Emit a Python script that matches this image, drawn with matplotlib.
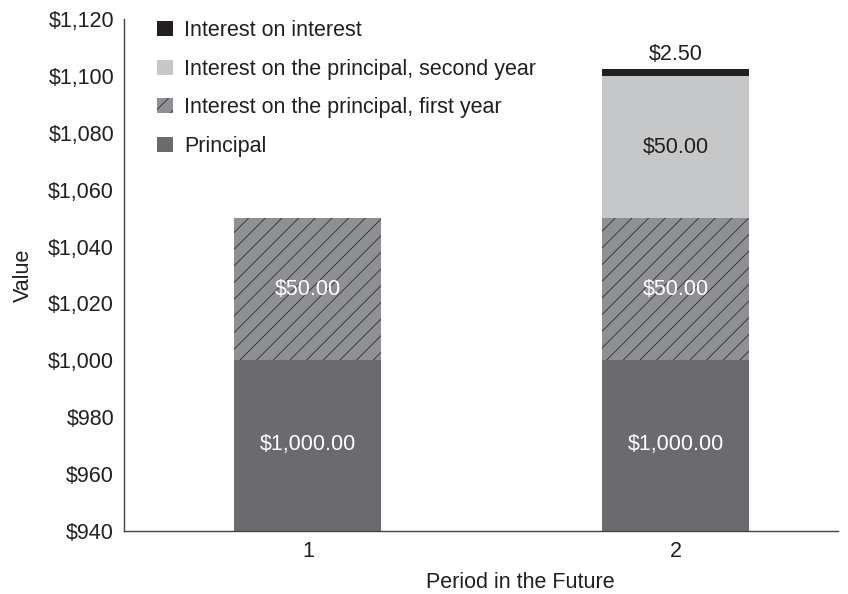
import matplotlib.pyplot as plt
import matplotlib as mpl

mpl.rcParams['font.family'] = ['Liberation Sans', 'DejaVu Sans']
mpl.rcParams['hatch.linewidth'] = 0.6

periods = ["1", "2"]
principal = [1000.0, 1000.0]
interest_year1 = [50.0, 50.0]
interest_year2 = [0.0, 50.0]
interest_on_interest = [0.0, 2.5]

fig = plt.figure(figsize=(8.48, 5.94), dpi=100)
ax = fig.add_axes([0.146, 0.106, 0.842, 0.862])

x = [1, 2]
w = 0.40
ax.bar(x, principal, w, color="#6b6b6f", label="Principal", zorder=2)
b1 = [p for p in principal]
ax.bar(x, interest_year1, w, bottom=b1, color="#8f9093", hatch="//",
       edgecolor="#2e2e2e", linewidth=0, label="Interest on the principal, first year", zorder=2)
b2 = [p + i for p, i in zip(principal, interest_year1)]
ax.bar(x[1:], interest_year2[1:], w, bottom=b2[1:], color="#c6c7c9",
       label="Interest on the principal, second year", zorder=2)
b3 = [a + b for a, b in zip(b2, interest_year2)]
ax.bar(x[1:], interest_on_interest[1:], w, bottom=b3[1:], color="#231f20",
       label="Interest on interest", zorder=2)

fs = 15.5
# value labels
for xi, p in zip(x, principal):
    ax.text(xi, 970.5, f"${p:,.2f}", ha="center", va="center", color="white", fontsize=fs)
for xi, v, b in zip(x, interest_year1, b1):
    ax.text(xi, b + v / 2, f"${v:,.2f}", ha="center", va="center", color="white", fontsize=fs)
ax.text(2, b2[1] + interest_year2[1] / 2, f"${interest_year2[1]:,.2f}",
        ha="center", va="center", color="#231f20", fontsize=fs)
ax.text(2, b3[1] + interest_on_interest[1] + 1.2, f"${interest_on_interest[1]:,.2f}",
        ha="center", va="bottom", color="#231f20", fontsize=fs)

ax.set_xlim(0.5, 2.44)
ax.set_ylim(940, 1120)
ax.set_yticks(range(940, 1121, 20))
ax.set_yticklabels([f"${v:,}" for v in range(940, 1121, 20)])
ax.set_xticks(x)
ax.set_xticklabels(periods)
ax.tick_params(length=0, labelsize=fs, colors="#231f20", pad=7)
for s in ["top", "right"]:
    ax.spines[s].set_visible(False)
for s in ["left", "bottom"]:
    ax.spines[s].set_color("#444444")
    ax.spines[s].set_linewidth(1.0)

ax.set_ylabel("Value", fontsize=fs, color="#231f20", labelpad=10)
ax.set_xlabel("Period in the Future", fontsize=fs, color="#231f20")
ax.xaxis.set_label_coords(0.556, -0.08)

handles, labels = ax.get_legend_handles_labels()
leg = ax.legend(handles[::-1], labels[::-1], loc="upper left", bbox_to_anchor=(0.02, 1.036),
                frameon=False, fontsize=fs, handlelength=0.7, handleheight=0.7,
                handletextpad=0.55, labelspacing=0.82, labelcolor="#231f20")

fig.savefig("out.png", dpi=100)
